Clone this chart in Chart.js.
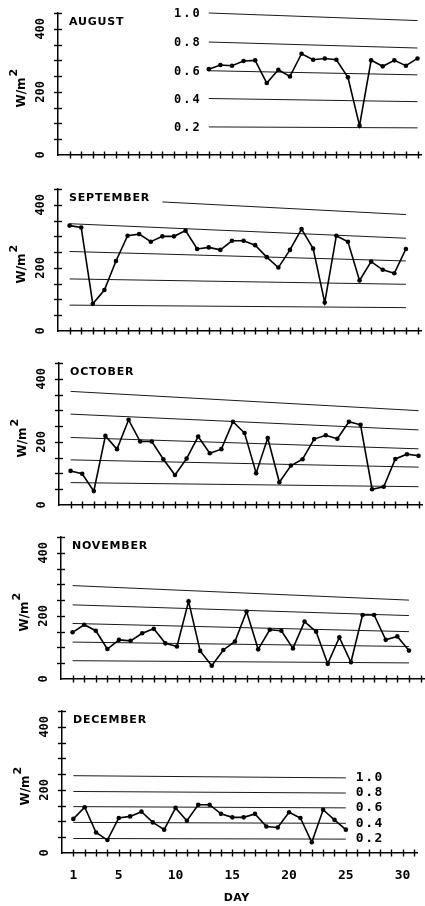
<!DOCTYPE html>
<html><head><meta charset="utf-8">
<script src="https://cdn.jsdelivr.net/npm/chart.js@4.4.1/dist/chart.umd.min.js"></script>
<style>
html,body{margin:0;padding:0;background:#fff;width:425px;height:906px;overflow:hidden;position:relative}
canvas{position:absolute;left:0;display:block}
</style></head><body>
<canvas id="c0"></canvas><canvas id="c1"></canvas><canvas id="c2"></canvas><canvas id="c3"></canvas><canvas id="c4"></canvas>
<script>
// ---------- data ----------
const MONTHS = ['AUGUST','SEPTEMBER','OCTOBER','NOVEMBER','DECEMBER'];
const DAY_TICKS = [1,2,3,4,5,6,7,8,9,10,11,12,13,14,15,16,17,18,19,20,21,22,23,24,25,26,27,28,29,30,31];
const DAY_LABELS = [1,5,10,15,20,25,30];
const FLUX_LABELS = [0,200,400];
const FRACTION_LABELS = ['1.0','0.8','0.6','0.4','0.2'];
const X_TITLE = 'DAY';
const Y_TITLE = 'W/m';
const Y_TITLE_SUP = '2';

const augDays = [13,14,15,16,17,18,19,20,21,22,23,24,25,26,27,28,29,30,31];
const augFlux = [272,285,283,298,300,228,270,249,321,302,306,302,246,93,300,281,300,283,306];
const sepDays = [1,2,3,4,5,6,7,8,9,10,11,12,13,14,15,16,17,18,19,20,21,22,23,24,25,26,27,28,29,30];
const sepFlux = [334,328,86,130,222,302,307,283,300,300,318,260,265,257,286,286,272,234,201,257,323,261,90,302,283,160,220,194,183,260];
const octDays = [1,2,3,4,5,6,7,8,9,10,11,12,13,14,15,16,17,18,19,20,21,22,23,24,25,26,27,28,29,30,31];
const octFlux = [108,99,44,219,177,270,201,201,145,95,147,217,164,177,264,228,101,212,72,125,145,209,221,210,264,254,50,58,146,161,156];
const novDays = [1,2,3,4,5,6,7,8,9,10,11,12,13,14,15,16,17,18,19,20,21,22,23,24,25,26,27,28,29,30];
const novFlux = [148,172,153,95,124,121,145,159,113,103,246,89,42,92,119,214,94,156,153,97,182,150,48,132,53,203,203,124,135,90];
const decDays = [1,2,3,4,5,6,7,8,9,10,11,12,13,14,15,16,17,18,19,20,21,22,23,24,25];
const decFlux = [108,145,65,41,111,116,131,97,74,143,102,153,153,124,113,113,124,84,81,129,111,34,137,105,74];

// clear-sky fraction lines (1.0 .. 0.2): first/last day and value there
const augRefStartDay = [13,13,13,13,13];
const augRefEndDay   = [31,31,31,31,31];
const augRefStart    = [450,358,267,179,89];
const augRefEnd      = [426,339,254,169,86];
const sepRefStartDay = [9,1,1,1,1];
const sepRefEndDay   = [30,30,30,30,30];
const sepRefStart    = [409,340,252,165,82];
const sepRefEnd      = [369,294,222,148,74];
const octRefStartDay = [1,1,1,1,1];
const octRefEndDay   = [31,31,31,31,31];
const octRefStart    = [360,288,214,143,71];
const octRefEnd      = [299,238,178,120,58];
const novRefStartDay = [1,1,1,1,1];
const novRefEndDay   = [30,30,30,30,30];
const novRefStart    = [296,235,176,117,58];
const novRefEnd      = [250,201,150,103,51];
const decRefStartDay = [1,1,1,1,1];
const decRefEndDay   = [25,25,25,25,25];
const decRefStart    = [245,195,147,97,46];
const decRefEnd      = [238,190,143,94,44];

// ---------- layout (not data) ----------
const PANEL_ZERO = [155,331,505,679,853];
const PANEL_AXIS_X = [58,58,59,61,62];
const PLOT_H = 142, PAD_TOP = 8, PX_PER_DAY = 11.72, X_MAX = 31.3;

const panels = [
  {days:augDays, flux:augFlux, rs:augRefStartDay, re:augRefEndDay, vs:augRefStart, ve:augRefEnd, side:'left'},
  {days:sepDays, flux:sepFlux, rs:sepRefStartDay, re:sepRefEndDay, vs:sepRefStart, ve:sepRefEnd, side:null},
  {days:octDays, flux:octFlux, rs:octRefStartDay, re:octRefEndDay, vs:octRefStart, ve:octRefEnd, side:null},
  {days:novDays, flux:novFlux, rs:novRefStartDay, re:novRefEndDay, vs:novRefStart, ve:novRefEnd, side:null},
  {days:decDays, flux:decFlux, rs:decRefStartDay, re:decRefEndDay, vs:decRefStart, ve:decRefEnd, side:'right'}
];

const deco = {
  id:'deco',
  afterDraw(chart, args, o){
    const ctx = chart.ctx, xs = chart.scales.x, ys = chart.scales.y;
    const left = xs.left, bottom = ys.bottom;
    ctx.save();
    ctx.strokeStyle = '#000'; ctx.lineWidth = 1.4;
    ys.ticks.forEach(t => {
      if (t.value === 0) return;
      const py = Math.round(ys.getPixelForValue(t.value)) + 0.5;
      ctx.beginPath(); ctx.moveTo(left-4, py); ctx.lineTo(left+4, py); ctx.stroke();
    });
    xs.ticks.forEach(t => {
      const px = Math.round(xs.getPixelForValue(t.value)) + 0.5;
      ctx.beginPath(); ctx.moveTo(px, bottom-3.5); ctx.lineTo(px, bottom+3.5); ctx.stroke();
    });
    ctx.fillStyle = '#000';
    // rotated y labels
    ctx.font = 'bold 12px "DejaVu Sans Mono"'; ctx.textAlign = 'center'; ctx.textBaseline = 'middle';
    FLUX_LABELS.forEach(v => {
      ctx.save(); ctx.translate(left-17, ys.getPixelForValue(v)); ctx.rotate(-Math.PI/2);
      ctx.fillText(String(v), 0, 0); ctx.restore();
    });
    // y title
    ctx.save(); ctx.translate(left-36, ys.getPixelForValue(198)); ctx.rotate(-Math.PI/2);
    ctx.font = 'bold 12px "DejaVu Sans"'; ctx.textAlign = 'center';
    ctx.fillText(Y_TITLE, 0, 0);
    const w = ctx.measureText(Y_TITLE).width;
    ctx.font = 'bold 11px "DejaVu Sans"'; ctx.textAlign = 'left';
    ctx.fillText(Y_TITLE_SUP, w/2 + 1, -8);
    ctx.restore();
    // month label
    ctx.font = 'bold 11px "DejaVu Sans"'; ctx.textAlign = 'left'; ctx.letterSpacing = '0.8px';
    ctx.fillText(o.month, left + 11, ys.top + 9);
    ctx.letterSpacing = '0px';
    // fraction labels
    if (o.side) {
      FRACTION_LABELS.forEach((lab, i) => {
        const meta = chart.getDatasetMeta(i + 1);
        if (o.side === 'left') {
          const p = meta.data[0];
          ctx.font = 'bold 12px "DejaVu Sans Mono"'; ctx.letterSpacing = '2px'; ctx.textAlign = 'right';
          ctx.fillText(lab, p.x - 9 + 2, p.y + 1);
        } else {
          const p = meta.data[1];
          ctx.font = 'bold 13px "DejaVu Sans Mono"'; ctx.letterSpacing = '1.5px'; ctx.textAlign = 'left';
          ctx.fillText(lab, p.x + 10, p.y);
        }
      });
      ctx.letterSpacing = '0px';
    }
    if (o.showDay) {
      ctx.font = 'bold 11px "DejaVu Sans"'; ctx.textAlign = 'center'; ctx.letterSpacing = '0.5px';
      ctx.fillText(X_TITLE, (xs.left + xs.right)/2 - 3, bottom + 45);
      ctx.letterSpacing = '0px';
    }
    ctx.restore();
  }
};

panels.forEach((p, k) => {
  const isLast = k === panels.length - 1;
  const axisX = PANEL_AXIS_X[k];
  const xh = isLast ? 906 - PANEL_ZERO[k] : 10;
  const W = axisX + Math.round(X_MAX * PX_PER_DAY);
  const H = PAD_TOP + PLOT_H + xh;
  const cv = document.getElementById('c' + k);
  cv.width = W; cv.height = H;
  cv.style.width = W + 'px'; cv.style.height = H + 'px';
  cv.style.top = (PANEL_ZERO[k] - PLOT_H - PAD_TOP) + 'px';

  const datasets = [{
    data: p.days.map((d, i) => ({x: d, y: p.flux[i]})),
    borderColor: '#000', borderWidth: 1.6, pointRadius: 2.3,
    pointBackgroundColor: '#000', pointBorderColor: '#000', pointBorderWidth: 0,
    tension: 0, clip: false
  }];
  FRACTION_LABELS.forEach((lab, i) => {
    datasets.push({
      data: [{x: p.rs[i], y: p.vs[i]}, {x: p.re[i], y: p.ve[i]}],
      borderColor: '#1a1a1a', borderWidth: 1, pointRadius: 0, tension: 0, clip: false
    });
  });

  new Chart(cv, {
    type: 'line',
    data: {datasets},
    options: {
      responsive: false, animation: false, events: [],
      layout: {padding: {top: PAD_TOP, left: 0, right: 0, bottom: 0}},
      plugins: {legend: {display: false}, tooltip: {enabled: false},
        deco: {month: MONTHS[k], side: p.side, showDay: isLast}},
      scales: {
        x: {
          type: 'linear', min: 0, max: X_MAX,
          grid: {display: false, drawTicks: false},
          border: {display: true, color: '#000', width: 1.5},
          afterBuildTicks: s => { s.ticks = DAY_TICKS.map(v => ({value: v})); },
          afterFit: s => { s.height = xh; },
          ticks: {
            display: isLast, autoSkip: false, maxRotation: 0, minRotation: 0, padding: 15,
            color: '#000', font: {family: 'DejaVu Sans Mono', size: 13, weight: 'bold'},
            callback: v => DAY_LABELS.includes(v) ? String(v) : ''
          }
        },
        y: {
          type: 'linear', min: 0, max: 450,
          ticks: {display: false, stepSize: 50},
          grid: {display: false, drawTicks: false},
          border: {display: true, color: '#000', width: 1.5},
          afterFit: s => { s.width = axisX; }
        }
      }
    },
    plugins: [deco]
  });
});
</script>
</body></html>
